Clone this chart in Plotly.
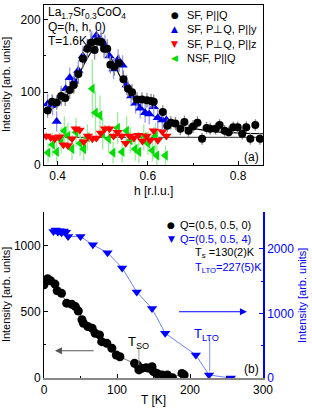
import plotly.graph_objects as go

# ---------------- Panel (a) data ----------------
h_sf_pq = [0.378, 0.388, 0.398, 0.408, 0.417, 0.427, 0.436, 0.446, 0.456, 0.466, 0.474, 0.482,
           0.488, 0.497, 0.503, 0.510, 0.517, 0.526, 0.536, 0.546, 0.556, 0.565, 0.576, 0.587,
           0.598, 0.607, 0.613, 0.633, 0.643, 0.651, 0.661, 0.672, 0.681, 0.690, 0.700, 0.710,
           0.720, 0.730, 0.738, 0.750, 0.759, 0.770, 0.779, 0.789, 0.799, 0.809, 0.818, 0.827,
           0.838, 0.848]
I_sf_pq = [75, 87, 86, 95, 92, 103, 110, 125, 146, 160, 168, 158,
           170, 169, 160, 160, 138, 135, 140, 118, 105, 100, 90, 90,
           89, 88, 87, 73, 54, 58, 57, 50, 59, 47, 53, 58,
           36, 51, 50, 50, 55, 47, 45, 52, 52, 43, 52, 36,
           55, 36]
e_sf_pq = [10, 10, 10, 11, 11, 12, 12, 12, 13, 13, 13, 13,
           13, 13, 13, 13, 12, 12, 12, 12, 11, 11, 10, 10,
           10, 10, 10, 9, 9, 9, 9, 9, 9, 9, 9, 9,
           8, 8, 8, 8, 8, 8, 8, 8, 8, 8, 8, 8,
           8, 8]

h_sf_py = [0.378, 0.389, 0.398, 0.408, 0.418, 0.427, 0.437, 0.446, 0.456, 0.466, 0.476, 0.486,
           0.496, 0.505, 0.515, 0.524, 0.534, 0.544, 0.553, 0.563, 0.573, 0.583, 0.594, 0.603,
           0.613, 0.622, 0.632, 0.641]
I_sf_py = [84, 82, 60, 95, 105, 120, 115, 130, 150, 160, 170, 178,
           172, 165, 150, 132, 145, 137, 110, 95, 85, 78, 72, 70,
           80, 65, 62, 62]
e_sf_py = [14] * len(h_sf_py)

h_sf_pz = [0.375, 0.385, 0.394, 0.404, 0.413, 0.423, 0.432, 0.440, 0.449, 0.458, 0.467, 0.477,
           0.486, 0.496, 0.505, 0.515, 0.524, 0.533, 0.542, 0.551, 0.560, 0.569, 0.579, 0.588,
           0.597, 0.605, 0.613, 0.622, 0.632, 0.641]
I_sf_pz = [40, 38, 36, 39, 28, 27, 36, 50, 48, 32, 40, 36,
           37, 44, 50, 50, 40, 45, 40, 30, 40, 37, 41, 33,
           40, 34, 47, 34, 46, 40]
e_sf_pz = [5] * len(h_sf_pz)

h_nsf_pq = [0.379, 0.389, 0.398, 0.408, 0.415, 0.423, 0.432, 0.441, 0.450, 0.458, 0.466, 0.477,
            0.484, 0.494, 0.500, 0.513, 0.523, 0.533, 0.543, 0.553, 0.561, 0.572, 0.580, 0.591,
            0.600, 0.610, 0.617, 0.620, 0.639]
I_nsf_pq = [17, 28, 18, 34, 47, 40, 22, 45, 30, 22, 38, 105,
            72, 68, 43, 36, 17, 51, 18, 47, 34, 22, 18, 38,
            30, 20, 40, 13, 13]
e_nsf_pq = [14, 16, 14, 18, 20, 18, 15, 20, 18, 16, 18, 40,
            30, 28, 22, 18, 15, 22, 15, 20, 18, 16, 15, 18,
            16, 15, 18, 14, 14]

# fit curve
h_fit = [0.372, 0.40, 0.42, 0.44, 0.46, 0.48, 0.49, 0.50, 0.52, 0.54, 0.56, 0.58, 0.60,
         0.63, 0.66, 0.70, 0.75, 0.80, 0.855]
I_fit = [72, 82, 95, 115, 140, 160, 165, 163, 145, 120, 98, 82, 72,
         62, 55, 50, 46, 44, 43]
h_bg = [0.37, 0.855]
I_bg = [38, 38]

legend_a = ["SF, P||Q", "SF, P\u22a5Q, P||y", "SF, P\u22a5Q, P||z", "NSF, P||Q"]

# ---------------- Panel (b) data ----------------
T_q0 = [0, 5, 9, 15, 18, 24, 31, 38, 43, 47, 52, 54, 60, 66, 70, 76, 79, 86, 93, 99,
        104, 124, 128, 130, 134, 140, 144, 148, 150, 155, 157, 162, 169, 176, 189, 192]
I_q0 = [705, 750, 735, 710, 660, 640, 566, 558, 540, 507, 440, 414, 389, 376, 338, 326,
        275, 263, 225, 174, 161, 111, 98, 61, 73, 78, 73, 86, 48, 35, 15, 23, 23, 2, 35, 23]

T_q4 = [13, 16, 19, 21, 24, 27, 30, 33, 50, 67, 87, 107, 127, 148, 166, 208, 226, 256]
I_q4 = [2270, 2290, 2260, 2280, 2250, 2275, 2255, 2190, 2190, 2062, 1940, 1705, 1333,
        1075, 693, 357, 47, 0]

legend_b = ["Q=(0.5, 0.5, 0)", "Q=(0.5, 0.5, 4)"]
T_so = 130
T_lto = 227

FONT = "Liberation Sans, Arial, sans-serif"
SYMFONT = "DejaVu Sans, sans-serif"
BLUE = "#0000ff"

fig = go.Figure()

# panel (a)
fig.add_trace(go.Scatter(x=h_bg, y=I_bg, mode="lines", line=dict(color="#555555", width=1.3),
                         xaxis="x", yaxis="y", hoverinfo="skip"))
fig.add_trace(go.Scatter(x=h_fit, y=I_fit, mode="lines", line=dict(color="black", width=1.2, shape="spline"),
                         xaxis="x", yaxis="y", hoverinfo="skip"))
fig.add_trace(go.Scatter(x=h_nsf_pq, y=I_nsf_pq, mode="markers", name=legend_a[3],
                         marker=dict(symbol="triangle-left", size=9, color="#00dd00"),
                         error_y=dict(type="data", array=e_nsf_pq, color="#99ee99", thickness=1.3, width=0),
                         xaxis="x", yaxis="y"))
fig.add_trace(go.Scatter(x=h_sf_pz, y=I_sf_pz, mode="markers", name=legend_a[2],
                         marker=dict(symbol="triangle-down", size=9, color="#ff0000"),
                         error_y=dict(type="data", array=e_sf_pz, color="#ff9999", thickness=1.3, width=0),
                         xaxis="x", yaxis="y"))
fig.add_trace(go.Scatter(x=h_sf_py, y=I_sf_py, mode="markers", name=legend_a[1],
                         marker=dict(symbol="triangle-up", size=9, color="#0000ee"),
                         error_y=dict(type="data", array=e_sf_py, color="#9999ff", thickness=1.3, width=0),
                         xaxis="x", yaxis="y"))
fig.add_trace(go.Scatter(x=h_sf_pq, y=I_sf_pq, mode="markers", name=legend_a[0],
                         marker=dict(symbol="circle", size=8, color="black"),
                         error_y=dict(type="data", array=e_sf_pq, color="#888888", thickness=1.3, width=0),
                         xaxis="x", yaxis="y"))

# panel (b)
fig.add_trace(go.Scatter(x=T_q0, y=I_q0, mode="lines+markers", name=legend_b[0],
                         marker=dict(symbol="circle", size=9, color="black"),
                         line=dict(color="#777777", width=1),
                         xaxis="x2", yaxis="y2"))
fig.add_trace(go.Scatter(x=T_q4, y=I_q4, mode="lines+markers", name=legend_b[1],
                         marker=dict(symbol="triangle-down", size=9, color=BLUE),
                         line=dict(color="#6f7fff", width=1),
                         xaxis="x2", yaxis="y3"))

axis_common = dict(showline=True, linecolor="black", linewidth=1, mirror=True, ticks="inside",
                   ticklen=4, tickcolor="black", showgrid=False, zeroline=False,
                   tickfont=dict(family=FONT, size=12, color="black"))

fig.update_layout(
    width=312, height=409,
    margin=dict(l=44, r=49, t=5, b=31),
    paper_bgcolor="white", plot_bgcolor="white",
    font=dict(family=FONT, size=12, color="black"),
    showlegend=False,
    xaxis=dict(domain=[0, 1], range=[0.37, 0.855], anchor="y", tickvals=[0.4, 0.6, 0.8],
               minor=dict(tickvals=[0.5, 0.7], ticks="inside", ticklen=2, tickcolor="black"),
               **axis_common),
    yaxis=dict(domain=[0.571, 1], range=[0, 220], anchor="x", tickvals=[0, 100, 200],
               minor=dict(tickvals=[50, 150], ticks="inside", ticklen=2, tickcolor="black"),
               **axis_common),
    xaxis2=dict(domain=[0, 1], range=[0, 300], anchor="y2", tickvals=[0, 100, 200, 300],
                minor=dict(tickvals=[50, 150, 250], ticks="inside", ticklen=2, tickcolor="black"),
                showline=True, linecolor="#888888", linewidth=1.5, mirror=False, ticks="inside",
                ticklen=4, tickcolor="black", showgrid=False, zeroline=False,
                tickfont=dict(family=FONT, size=12, color="black")),
    xaxis3=dict(domain=[0, 1], range=[0, 300], anchor="y2", overlaying="x2", side="top",
                showline=True, linecolor="#9fa8ff", linewidth=2, showticklabels=False,
                ticks="inside", ticklen=3, tickcolor="#9fa8ff", tickvals=[50, 100, 150, 200, 250],
                showgrid=False, zeroline=False),
    yaxis2=dict(domain=[0, 0.445], range=[0, 1255], anchor="x2", tickvals=[0, 500, 1000],
                minor=dict(tickvals=[250, 750], ticks="inside", ticklen=2, tickcolor="black"),
                showline=True, linecolor="black", linewidth=1, ticks="inside", ticklen=4,
                tickcolor="black", showgrid=False, zeroline=False,
                tickfont=dict(family=FONT, size=12, color="black")),
    yaxis3=dict(domain=[0, 0.445], range=[0, 2570], anchor="x2", overlaying="y2", side="right",
                tickvals=[0, 1000, 2000],
                minor=dict(tickvals=[500, 1500], ticks="inside", ticklen=2, tickcolor=BLUE),
                showline=True, linecolor=BLUE, linewidth=1.5, ticks="inside", ticklen=4,
                tickcolor=BLUE, showgrid=False, zeroline=False,
                tickfont=dict(family=FONT, size=12, color=BLUE)),
)

ann = []


def txt(x, y, text, ref, size=12, color="black", xanchor="left", yanchor="middle", family=FONT, angle=0):
    xr, yr = ref
    ann.append(dict(x=x, y=y, xref=xr, yref=yr, xanchor=xanchor, yanchor=yanchor, text=text,
                    showarrow=False, textangle=angle, font=dict(family=family, size=size, color=color)))


A = ("x domain", "y domain")
B = ("x2 domain", "y2 domain")

# panel (a) text
txt(0.01, 0.95, "La<sub>1.7</sub>Sr<sub>0.3</sub>CoO<sub>4</sub>", A)
txt(0.01, 0.8625, "Q=(h, h, 0)", A)
txt(0.01, 0.775, "T=1.6K", A)
txt(0.99, 0.05, "(a)", A, xanchor="right")
txt(0.5, -0.16, "h [r.l.u.]", A, xanchor="center")
txt(-0.173, 0.5, "Intensity [arb. units]", A, size=11, xanchor="center", angle=-90)

# legend (a)
leg_sym = [("\u25cf", "black"), ("\u25b2", "#0000ee"), ("\u25bc", "#ff0000"), ("\u25c0", "#00dd00")]
leg_y = [0.9375, 0.848, 0.758, 0.671]
for (s, c), ly, lab in zip(leg_sym, leg_y, legend_a):
    txt(0.598, ly, s, A, size=9, color=c, xanchor="center", family=SYMFONT)
    txt(0.645, ly, lab, A, size=11)

# panel (b) text
txt(-0.173, 0.5, "Intensity [arb. units]", B, size=11, xanchor="center", angle=-90)
txt(1.178, 0.5, "Intensity [arb. units]", B, size=11, color=BLUE, xanchor="center", angle=-90)
txt(0.5, -0.13, "T [K]", B, xanchor="center")
txt(0.99, 0.054, "(b)", B, xanchor="right")

# legend (b)
txt(0.58, 0.922, "\u25cf", B, size=9, color="black", xanchor="center", family=SYMFONT)
txt(0.61, 0.922, legend_b[0], B, size=11)
txt(0.58, 0.837, "\u25bc", B, size=9, color=BLUE, xanchor="center", family=SYMFONT)
txt(0.61, 0.837, legend_b[1], B, size=11, color=BLUE)
txt(0.68, 0.753, "T<sub>s</sub> =130(2)K", B, size=11)
txt(0.68, 0.663, "T<sub>LTO</sub>=227(5)K", B, size=11, color=BLUE)

# T_SO marker line and label
ann.append(dict(x=T_so, y=98, ax=T_so, ay=242, xref="x2", yref="y2", axref="x2", ayref="y2",
                showarrow=True, arrowhead=0, arrowwidth=1, arrowcolor="#999999", text=""))
ann.append(dict(x=130, y=265, xref="x2", yref="y2", xanchor="center", yanchor="middle",
                text="T<sub>SO</sub>", showarrow=False, font=dict(family=FONT, size=13)))
# T_LTO marker line and label
ann.append(dict(x=T_lto, y=48, ax=T_lto, ay=313, xref="x2", yref="y2", axref="x2", ayref="y2",
                showarrow=True, arrowhead=0, arrowwidth=1, arrowcolor="#8888ff", text=""))
ann.append(dict(x=222, y=330, xref="x2", yref="y2", xanchor="center", yanchor="middle",
                text="T<sub>LTO</sub>", showarrow=False, font=dict(family=FONT, size=13, color=BLUE)))
# axis indicator arrows
ann.append(dict(x=15, y=206, ax=70, ay=206, xref="x2", yref="y2", axref="x2", ayref="y2",
                showarrow=True, arrowhead=2, arrowsize=1.4, arrowwidth=1, arrowcolor="#555555", text=""))
ann.append(dict(x=278, y=1026, ax=183, ay=1026, xref="x2", yref="y3", axref="x2", ayref="y3",
                showarrow=True, arrowhead=2, arrowsize=1.4, arrowwidth=1, arrowcolor=BLUE, text=""))

fig.update_layout(annotations=ann)

fig.write_html("out.html", config={"displayModeBar": False},
               post_script="document.body.style.margin='0px';document.body.style.padding='0px';")
